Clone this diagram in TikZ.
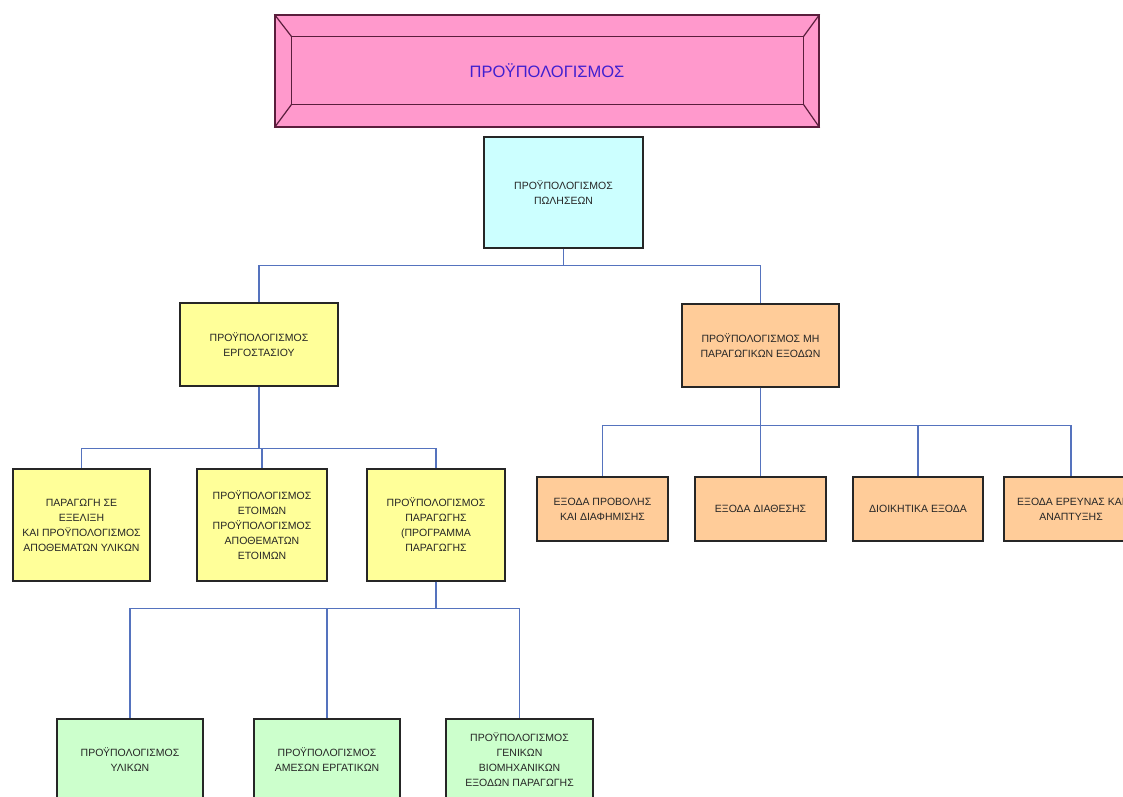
\documentclass[tikz,border=0pt]{standalone}
\usepackage{fontspec}
\setmainfont{Liberation Sans}
\definecolor{pinkfill}{RGB}{255,153,204}
\definecolor{bevelline}{RGB}{90,30,60}
\definecolor{titleblue}{RGB}{64,32,208}
\definecolor{cyanfill}{RGB}{204,255,255}
\definecolor{yellowfill}{RGB}{255,255,153}
\definecolor{orangefill}{RGB}{255,204,153}
\definecolor{greenfill}{RGB}{204,255,204}
\definecolor{linkblue}{RGB}{85,115,190}
\begin{document}
\begin{tikzpicture}[x=1pt,y=-1pt]
	\tikzstyle{box}=[draw=black!85,line width=1.1pt,align=center,inner sep=0pt,text=black!85,font=\fontsize{10.5}{15}\selectfont]
	\tikzstyle{titlebox}=[draw=bevelline,fill=pinkfill,line width=1.2pt,inner sep=0pt,minimum width=544pt,minimum height=112pt,text=titleblue,font=\fontsize{16.5}{18}\selectfont]
	\tikzstyle{bevel}=[draw=bevelline,line width=1.2pt]
	\tikzstyle{cyanbox}=[box,fill=cyanfill]
	\tikzstyle{yellowbox}=[box,fill=yellowfill]
	\tikzstyle{orangebox}=[box,fill=orangefill]
	\tikzstyle{greenbox}=[box,fill=greenfill]
	\tikzstyle{link}=[draw=linkblue,line width=1.3pt]
	\useasboundingbox (0,0) rectangle (1123,796);
	\clip (0,0) rectangle (1123,796);
	\begin{scope}
		% top
		\node [titlebox] (budget) at (547,71) {ΠΡΟΫΠΟΛΟΓΙΣΜΟΣ};
		\coordinate (in1) at ([xshift=17pt,yshift=-22pt]budget.north west);
		\coordinate (in2) at ([xshift=-16pt,yshift=-22pt]budget.north east);
		\coordinate (in3) at ([xshift=-16pt,yshift=23pt]budget.south east);
		\coordinate (in4) at ([xshift=17pt,yshift=23pt]budget.south west);
		\path[bevel] (in1) -- (in2) -- (in3) -- (in4) -- cycle;
		\path[bevel] (budget.north west) -- (in1) (budget.north east) -- (in2)
			(budget.south east) -- (in3) (budget.south west) -- (in4);
		\node [cyanbox,minimum width=159pt,minimum height=111pt] (sales) at (563.5,192.5) {ΠΡΟΫΠΟΛΟΓΙΣΜΟΣ\\ΠΩΛΗΣΕΩΝ};
		% second level
		\node [yellowbox,minimum width=158pt,minimum height=83pt] (factory) at (259,344.5) {ΠΡΟΫΠΟΛΟΓΙΣΜΟΣ\\ΕΡΓΟΣΤΑΣΙΟΥ};
		\node [orangebox,minimum width=157pt,minimum height=83pt] (nonprod) at (760.5,345.5) {ΠΡΟΫΠΟΛΟΓΙΣΜΟΣ ΜΗ\\ΠΑΡΑΓΩΓΙΚΩΝ ΕΞΟΔΩΝ};
		% factory branch
		\node [yellowbox,minimum width=137pt,minimum height=112pt] (wip) at (81.5,525) {ΠΑΡΑΓΩΓΗ ΣΕ\\ΕΞΕΛΙΞΗ\\ΚΑΙ ΠΡΟΫΠΟΛΟΓΙΣΜΟΣ\\ΑΠΟΘΕΜΑΤΩΝ ΥΛΙΚΩΝ};
		\node [yellowbox,minimum width=130pt,minimum height=112pt] (finished) at (262,525) {ΠΡΟΫΠΟΛΟΓΙΣΜΟΣ\\ΕΤΟΙΜΩΝ\\ΠΡΟΫΠΟΛΟΓΙΣΜΟΣ\\ΑΠΟΘΕΜΑΤΩΝ\\ΕΤΟΙΜΩΝ};
		\node [yellowbox,minimum width=138pt,minimum height=112pt] (prod) at (436,525) {ΠΡΟΫΠΟΛΟΓΙΣΜΟΣ\\ΠΑΡΑΓΩΓΗΣ\\(ΠΡΟΓΡΑΜΜΑ\\ΠΑΡΑΓΩΓΗΣ};
		% non production branch
		\node [orangebox,minimum width=131pt,minimum height=64pt] (selling) at (602.5,509) {ΕΞΟΔΑ ΠΡΟΒΟΛΗΣ\\ΚΑΙ ΔΙΑΦΗΜΙΣΗΣ};
		\node [orangebox,minimum width=131pt,minimum height=64pt] (distrib) at (760.5,509) {ΕΞΟΔΑ ΔΙΑΘΕΣΗΣ};
		\node [orangebox,minimum width=130pt,minimum height=64pt] (admin) at (918,509) {ΔΙΟΙΚΗΤΙΚΑ ΕΞΟΔΑ};
		\node [orangebox,minimum width=134pt,minimum height=64pt] (research) at (1071,509) {ΕΞΟΔΑ ΕΡΕΥΝΑΣ ΚΑΙ\\ΑΝΑΠΤΥΞΗΣ};
		% production branch
		\node [greenbox,minimum width=146pt,minimum height=81pt] (materials) at (130,759.5) {ΠΡΟΫΠΟΛΟΓΙΣΜΟΣ\\ΥΛΙΚΩΝ};
		\node [greenbox,minimum width=146pt,minimum height=81pt] (labour) at (327,759.5) {ΠΡΟΫΠΟΛΟΓΙΣΜΟΣ\\ΑΜΕΣΩΝ ΕΡΓΑΤΙΚΩΝ};
		\node [greenbox,minimum width=147pt,minimum height=81pt] (overhead) at (519.5,759.5) {ΠΡΟΫΠΟΛΟΓΙΣΜΟΣ\\ΓΕΝΙΚΩΝ\\ΒΙΟΜΗΧΑΝΙΚΩΝ\\ΕΞΟΔΩΝ ΠΑΡΑΓΩΓΗΣ};
		% links
		\path[link] (sales.south) -- ++(0,17) -| (factory.north);
		\path[link] (sales.south) -- ++(0,17) -| (nonprod.north);
		\path[link] (factory.south) -- ++(0,62) -| (wip.north);
		\path[link] (factory.south) -- ++(0,62) -| (finished.north);
		\path[link] (factory.south) -- ++(0,62) -| (prod.north);
		\path[link] (nonprod.south) -- ++(0,38) -| (selling.north);
		\path[link] (nonprod.south) -- ++(0,38) -| (distrib.north);
		\path[link] (nonprod.south) -- ++(0,38) -| (admin.north);
		\path[link] (nonprod.south) -- ++(0,38) -| (research.north);
		\path[link] (prod.south) -- ++(0,27) -| (materials.north);
		\path[link] (prod.south) -- ++(0,27) -| (labour.north);
		\path[link] (prod.south) -- ++(0,27) -| (overhead.north);
	\end{scope}
\end{tikzpicture}
\end{document}
